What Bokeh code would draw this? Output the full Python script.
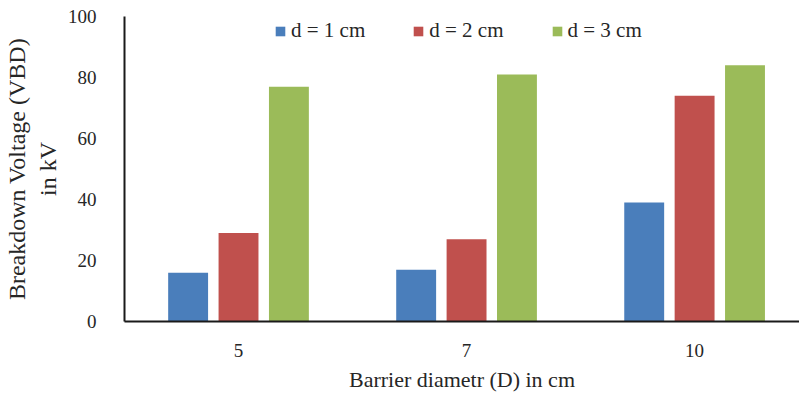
from bokeh.plotting import figure
from bokeh.models import Range1d, FixedTicker, Legend, LegendItem
from bokeh.embed import file_html
from bokeh.resources import INLINE

categories = ["5", "7", "10"]
series_names = ["d = 1 cm", "d = 2 cm", "d = 3 cm"]
d1 = [16, 17, 39]
d2 = [29, 27, 74]
d3 = [77, 81, 84]
y_ticks = [0, 20, 40, 60, 80, 100]

colors = ["#4A7EBB", "#C0504D", "#9BBB59"]
offsets = [-0.221, 0.0, 0.221]
FONT = "'Liberation Serif', 'Times New Roman', serif"
TXT = "#262626"

p = figure(width=799, height=394, output_backend="svg", toolbar_location=None,
           x_range=Range1d(-0.5, 2.46), y_range=Range1d(0, 100),
           min_border_left=124, min_border_right=0, min_border_top=16, min_border_bottom=73)
p.outline_line_color = None
p.xgrid.visible = False
p.ygrid.visible = False

xs = list(range(len(categories)))
items = []
for vals, c, off, name in zip([d1, d2, d3], colors, offsets, series_names):
    r = p.vbar(x=[x + off for x in xs], top=vals, width=0.175, bottom=0,
               fill_color=c, line_color=None)
    items.append(LegendItem(label=name, renderers=[r]))

legend = Legend(items=items, orientation="horizontal", location=(150, 278),
                glyph_width=12, glyph_height=12, spacing=47, label_standoff=5,
                label_text_font=FONT, label_text_font_size="21px", label_text_color=TXT,
                background_fill_alpha=0, border_line_color=None, padding=0, margin=0)
p.add_layout(legend)

p.xaxis.ticker = FixedTicker(ticks=xs)
p.xaxis.major_label_overrides = {i: c for i, c in enumerate(categories)}
p.yaxis.ticker = FixedTicker(ticks=y_ticks)

for ax in (p.xaxis[0], p.yaxis[0]):
    ax.axis_line_color = "#1a1a1a"
    ax.axis_line_width = 2
    ax.major_tick_line_color = None
    ax.minor_tick_line_color = None
    ax.major_label_text_font = FONT
    ax.major_label_text_font_size = "19px"
    ax.major_label_text_color = TXT
    ax.axis_label_text_font = FONT
    ax.axis_label_text_font_style = "normal"
    ax.axis_label_text_color = TXT

p.xaxis.axis_label_text_font_size = "22px"
p.yaxis.axis_label_text_font_size = "24px"
p.xaxis.major_label_standoff = 16
p.yaxis.major_label_standoff = 22
p.xaxis.axis_label = "Barrier diametr (D) in cm"
p.xaxis.axis_label_standoff = 7
p.yaxis.axis_label = "Breakdown Voltage (VBD)\nin kV"
p.yaxis.axis_label_standoff = 4

open("out.html", "w").write(file_html(p, INLINE))
